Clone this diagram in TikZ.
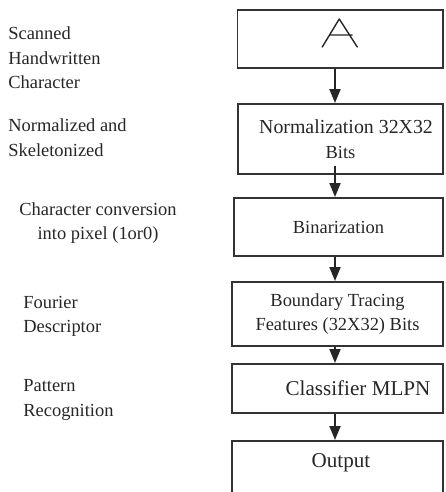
\documentclass[tikz,border=0pt]{standalone}
\usepackage{fontspec}
\setmainfont{Liberation Serif}
\usetikzlibrary{arrows.meta}
\begin{document}
\begin{tikzpicture}[x=0.02cm,y=-0.02cm,
  every node/.style={font=\fontsize{10.5}{14}\selectfont, text=black!85},
  box/.style={draw=black!80, line width=1.1pt, align=center, inner sep=0pt},
  side/.style={align=left, anchor=west, inner sep=0pt},
  arr/.style={draw=black!85, line width=1.1pt, -{Triangle[length=0.28cm,width=0.22cm]}}]
\useasboundingbox (0,0) rectangle (445,492);
% steps on the right
\node[box, minimum width=4.11cm, minimum height=1.16cm] (b1) at (340.25,39) {};
\node[box, minimum width=4.1cm, minimum height=1.4cm] (b2) at (340.5,139) {{\fontsize{11.3}{14}\selectfont\hspace*{0.22cm}Normalization 32X32}\\Bits};
\node[box, minimum width=4.18cm, minimum height=1.16cm] (b3) at (338.5,227) {Binarization};
\node[box, minimum width=4.22cm, minimum height=1.28cm] (b4) at (337.5,314) {Boundary Tracing\\Features (32X32) Bits};
\node[box, minimum width=4.22cm, minimum height=0.98cm, font=\fontsize{12}{14}\selectfont] (b5) at (337.5,388.5) {\hspace*{0.82cm}Classifier MLPN};
\node[box, minimum width=4.22cm, anchor=north, text height=0.34cm, text depth=1.2cm, inner ysep=0.19cm, font=\fontsize{12}{14}\selectfont] (b6) at (337.5,440) {\hspace*{0.14cm}Output};
% the scanned character
\draw[black!85, line width=0.8pt, line cap=round, line join=round, shift={(b1.center)}]
  (-18,8) -- (-1,-20) -- (17,8) (-11,-4) -- (12,-4);
% labels on the left
\node[side] (scan) at (8,58) {Scanned\\Handwritten\\Character};
\node[side] (norm) at (8,137.5) {Normalized and\\Skeletonized};
\node[align=center, inner sep=0pt] (conv) at (98,223) {Character conversion\\into pixel (1or0)};
\node[side] (four) at (23,316.5) {Fourier\\Descriptor};
\node[side] (patt) at (23,400) {Pattern\\Recognition};
% arrows
\coordinate (ax) at (335,0);
\draw[arr] (b1.south -| ax) -- (b2.north -| ax);
\draw[arr] ([yshift=0.18cm]b2.south -| ax) -- (b3.north -| ax);
\draw[arr] (b3.south -| ax) -- (b4.north -| ax);
\draw[arr] (b4.south -| ax) -- (b5.north -| ax);
\draw[arr] (b5.south -| ax) -- (b6.north -| ax);
\end{tikzpicture}
\end{document}
